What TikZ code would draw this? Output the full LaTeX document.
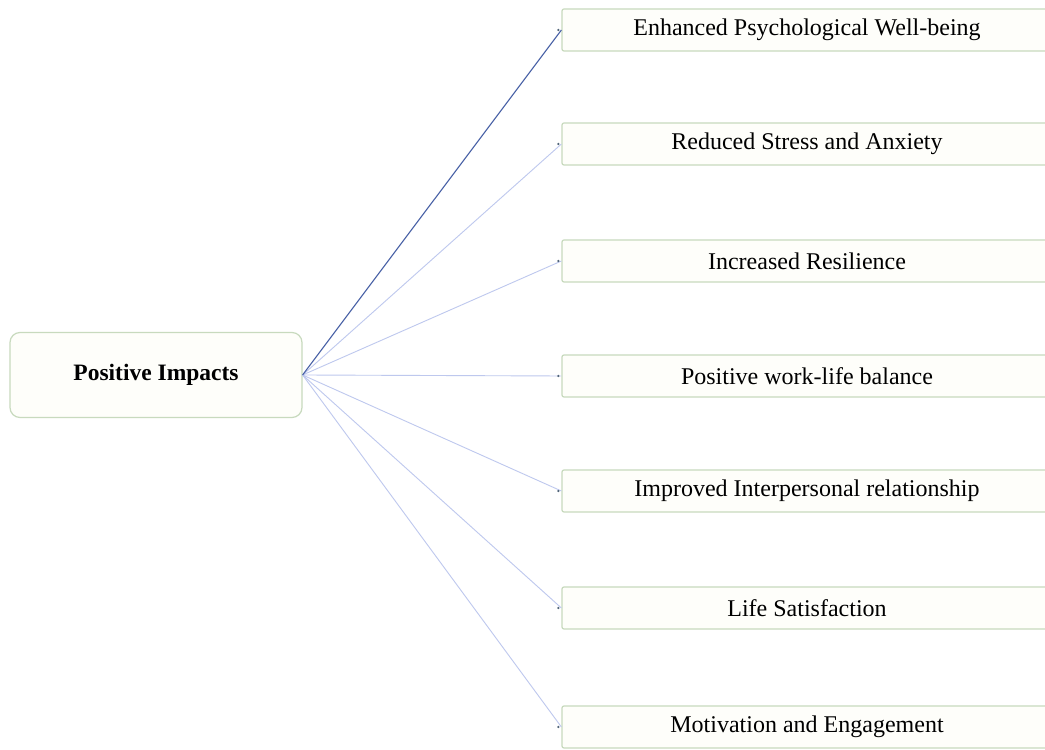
\documentclass[tikz,border=0pt]{standalone}
\usepackage{fontspec}
\setmainfont{Liberation Serif}
\definecolor{boxborder}{RGB}{200,218,190}
\definecolor{boxfill}{RGB}{254,254,250}
\definecolor{darkline}{RGB}{70,95,165}
\definecolor{lightline}{RGB}{190,200,238}
\definecolor{dotcol}{RGB}{80,100,120}
\begin{document}
\begin{tikzpicture}[x=1pt,y=1pt,
  rootbox/.style={draw=boxborder,line width=1.2pt,fill=boxfill,rounded corners=10pt,minimum width=292pt,minimum height=85pt,font=\fontsize{23.5}{26}\selectfont\bfseries,inner sep=0pt},
  leafbox/.style={draw=boxborder,line width=1.2pt,fill=boxfill,rounded corners=2pt,minimum width=490pt,minimum height=42pt,font=\fontsize{24}{27}\selectfont,inner sep=0pt},
  link/.style={draw=lightline,line width=0.9pt},
  firstlink/.style={draw=darkline,line width=1.1pt},
  enddot/.style={circle,fill=dotcol,inner sep=0pt,minimum size=2.5pt}]
\fill[white] (0,0) rectangle (1045,750);
\useasboundingbox (0,0) rectangle (1045,750);
\clip (0,0) rectangle (1045,750);
\node[rootbox] (root) at (156,375) {Positive Impacts};
\node[leafbox] (l1) at (807,720) {Enhanced Psychological Well-being};
\node[leafbox] (l2) at (807,606) {Reduced Stress and Anxiety};
\node[leafbox] (l3) at (807,489) {Increased Resilience};
\node[leafbox] (l4) at (807,374) {Positive work-life balance};
\node[leafbox] (l5) at (807,259) {Improved Interpersonal relationship};
\node[leafbox] (l6) at (807,142) {Life Satisfaction};
\node[leafbox] (l7) at (807,23) {Motivation and Engagement};
\foreach \n in {l2,l3,l4,l5,l6,l7} {
  \draw[link] (root.east) -- (\n.west);
}
\draw[firstlink] (root.east) -- (l1.west);
\foreach \n in {l1,l2,l3,l4,l5,l6,l7} {
  \node[enddot] (d\n) at ([xshift=-3pt]\n.west) {};
}
\end{tikzpicture}
\end{document}
